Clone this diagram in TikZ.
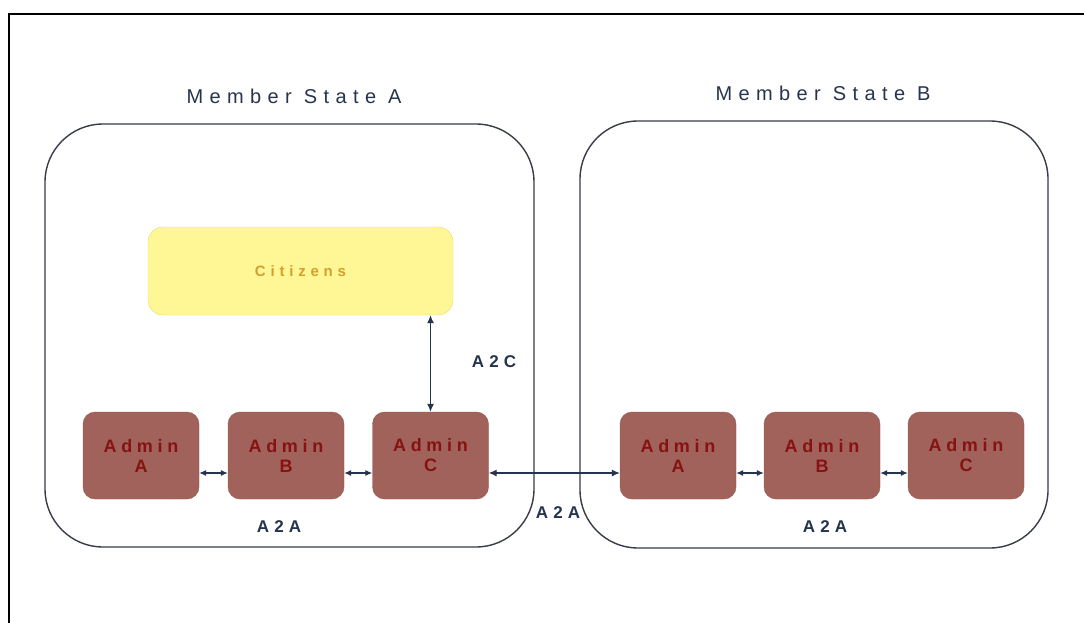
\documentclass[tikz,border=0pt]{standalone}
\usepackage{fontspec}
\setmainfont{Liberation Sans}
\newfontfamily\trackstate[LetterSpace=32]{Liberation Sans}
\newfontfamily\trackadmin[LetterSpace=26]{Liberation Sans}
\newfontfamily\trackcit[LetterSpace=32]{Liberation Sans}
\newfontfamily\tracklink[LetterSpace=30]{Liberation Sans}
\usetikzlibrary{arrows.meta}
\definecolor{inkblue}{RGB}{38,52,78}
\definecolor{frameline}{RGB}{55,60,70}
\definecolor{adminfill}{RGB}{160,98,90}
\definecolor{adminedge}{RGB}{150,90,82}
\definecolor{admintext}{RGB}{135,18,20}
\definecolor{citfill}{RGB}{255,246,150}
\definecolor{citedge}{RGB}{232,218,110}
\definecolor{cittext}{RGB}{212,160,45}
\tikzset{
  statebox/.style={draw=frameline, line width=1.4pt, rounded corners=58pt, fill=white},
  statelabel/.style={text=inkblue, font=\trackstate\fontsize{20}{24}\selectfont},
  adminbox/.style={draw=adminedge, fill=adminfill, rounded corners=12pt,
    minimum width=116pt, minimum height=87pt, align=center, text=admintext,
    font=\trackadmin\bfseries\fontsize{18}{20}\selectfont},
  citbox/.style={draw=citedge, fill=citfill, rounded corners=15pt,
    minimum width=305pt, minimum height=88pt, text=cittext,
    font=\trackcit\bfseries\fontsize{15}{17}\selectfont},
  linklabel/.style={text=inkblue, font=\tracklink\bfseries\fontsize{17}{19}\selectfont},
  link/.style={draw=inkblue, line width=1.1pt, {Latex[length=8pt,width=7pt]}-{Latex[length=8pt,width=7pt]}},
  shortlink/.style={draw=inkblue, line width=1.1pt, {Latex[length=7pt,width=6pt]}-{Latex[length=7pt,width=6pt]}}
}
\begin{document}
\begin{tikzpicture}[x=1pt,y=-1pt]
\useasboundingbox (0,0) rectangle (1084,623);
\fill[white] (0,0) rectangle (1084,623);
% page frame
\draw[black, line width=1.4pt] (9,623) -- (9,14) -- (1084,14);

% member states
\node[statebox, minimum width=489pt, minimum height=423pt] (stateA) at (289.5,335.5) {};
\node[statebox, minimum width=468pt, minimum height=427pt] (stateB) at (814,334.5) {};
\node[statelabel] (labelA) at (294,96) {Member State A};
\node[statelabel] (labelB) at (823,93) {Member State B};

% citizens
\node[citbox] (cit) at (300.5,271) {Citizens};

% administrations of state A
\node[adminbox] (aA) at (141,455.5) {Admin\\A};
\node[adminbox] (aB) at (286,455.5) {Admin\\B};
\node[adminbox] (aC) at (430.5,455.5) {Admin\\C};
% administrations of state B
\node[adminbox] (bA) at (678,455.5) {Admin\\A};
\node[adminbox] (bB) at (822,455.5) {Admin\\B};
\node[adminbox] (bC) at (966,455.5) {Admin\\C};

% links
\draw[link] (aC.north) -- (aC.north |- cit.south);
\draw[shortlink] ([yshift=-17.5pt]aA.east) -- ([yshift=-17.5pt]aB.west);
\draw[shortlink] ([yshift=-17.5pt]aB.east) -- ([yshift=-17.5pt]aC.west);
\draw[link] ([yshift=-17.5pt]aC.east) -- ([yshift=-17.5pt]bA.west);
\draw[shortlink] ([yshift=-17.5pt]bA.east) -- ([yshift=-17.5pt]bB.west);
\draw[shortlink] ([yshift=-17.5pt]bB.east) -- ([yshift=-17.5pt]bC.west);

% link labels
\node[linklabel] (lA2C) at (494,362) {A2C};
\node[linklabel] (lA2Aa) at (279,527) {A2A};
\node[linklabel] (lA2Am) at (558,513) {A2A};
\node[linklabel] (lA2Ab) at (825,527) {A2A};
\end{tikzpicture}
\end{document}
